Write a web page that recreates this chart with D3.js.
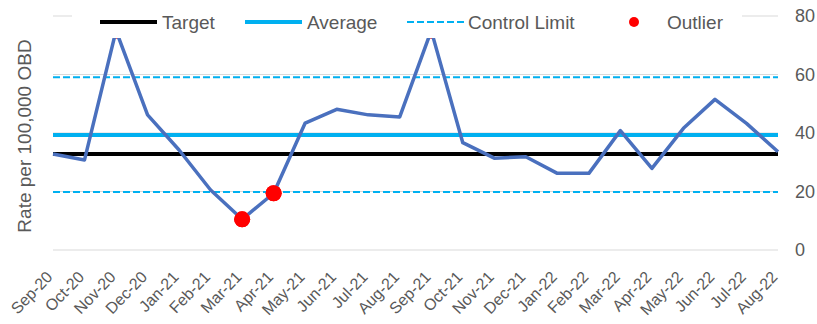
<!DOCTYPE html>
<html>
<head>
<meta charset="utf-8">
<script src="https://cdn.jsdelivr.net/npm/d3@7"></script>
<style>
  body { margin: 0; background: #fff; }
  text { font-family: "Liberation Sans", Arial, sans-serif; fill: #595959; }
</style>
</head>
<body>
<div id="chart-area"><svg></svg></div>
<script>
const months = ["Sep-20", "Oct-20", "Nov-20", "Dec-20", "Jan-21", "Feb-21", "Mar-21", "Apr-21",
  "May-21", "Jun-21", "Jul-21", "Aug-21", "Sep-21", "Oct-21", "Nov-21", "Dec-21",
  "Jan-22", "Feb-22", "Mar-22", "Apr-22", "May-22", "Jun-22", "Jul-22", "Aug-22"];
const rates = [32.8, 30.8, 75, 46.2, 34.2, 20.5, 10.5, 19.4,
  43.4, 48.1, 46.2, 45.5, 75, 36.7, 31.4, 31.9,
  26.2, 26.2, 40.8, 27.9, 41.6, 51.5, 43.3, 33.6];
const outlierMonths = ["Nov-20", "Mar-21", "Apr-21", "Sep-21"];
const target = 32.8;
const average = 39.3;
const controlLimits = [59.1, 19.8];
const yTicks = [0, 20, 40, 60, 80];

const chartSize = { width: 817, height: 324 };
const plot = { left: 53, right: 778, top: 16, bottom: 250 };
const blue = "#00B0F0";

const svg = d3.select("#chart-area svg")
  .attr("width", chartSize.width)
  .attr("height", chartSize.height);

const x = d3.scalePoint().domain(months).range([plot.left, plot.right]);
const y = d3.scaleLinear().domain([0, 80]).range([plot.bottom, plot.top]);

// gridlines
svg.append("g")
  .selectAll("line")
  .data(yTicks)
  .join("line")
  .attr("x1", plot.left)
  .attr("x2", plot.right)
  .attr("y1", d => y(d))
  .attr("y2", d => y(d))
  .attr("stroke", "#d9d9d9")
  .attr("stroke-width", 1);

const hline = (value, color, width, dash) =>
  svg.append("line")
    .attr("x1", plot.left)
    .attr("x2", plot.right)
    .attr("y1", y(value))
    .attr("y2", y(value))
    .attr("stroke", color)
    .attr("stroke-width", width)
    .attr("stroke-dasharray", dash);

controlLimits.forEach(v => hline(v, blue, 2, "7,3"));
hline(average, blue, 4, null);
hline(target, "#000", 4, null);

svg.append("g")
  .selectAll("circle")
  .data(outlierMonths)
  .join("circle")
  .attr("cx", m => x(m))
  .attr("cy", m => y(rates[months.indexOf(m)]))
  .attr("r", 8)
  .attr("fill", "#FF0000");

const line = d3.line()
  .x((d, i) => x(months[i]))
  .y(d => y(d));

svg.append("path")
  .attr("d", line(rates))
  .attr("fill", "none")
  .attr("stroke", "#4A70BE")
  .attr("stroke-width", 3.5)
  .attr("stroke-linejoin", "round");

// redraw the low outliers above the line, as in the original
svg.append("g")
  .selectAll("circle")
  .data(outlierMonths.filter(m => rates[months.indexOf(m)] < 40))
  .join("circle")
  .attr("cx", m => x(m))
  .attr("cy", m => y(rates[months.indexOf(m)]))
  .attr("r", 8)
  .attr("fill", "#FF0000");

// legend (white box over top of plot)
const legend = svg.append("g");
legend.append("rect")
  .attr("x", 72).attr("y", 3).attr("width", 670).attr("height", 35)
  .attr("fill", "#fff");

const legendY = 22;
const legendItems = [
  { label: "Target", x1: 100, x2: 157, tx: 162, color: "#000", width: 4, dash: null },
  { label: "Average", x1: 245, x2: 302, tx: 307, color: blue, width: 4, dash: null },
  { label: "Control Limit", x1: 407, x2: 465, tx: 468, color: blue, width: 2, dash: "7,3" }
];
legendItems.forEach(item => {
  legend.append("line")
    .attr("x1", item.x1).attr("x2", item.x2)
    .attr("y1", legendY).attr("y2", legendY)
    .attr("stroke", item.color)
    .attr("stroke-width", item.width)
    .attr("stroke-dasharray", item.dash);
  legend.append("text")
    .attr("x", item.tx).attr("y", legendY)
    .attr("dy", "0.35em")
    .style("font-size", "19px")
    .text(item.label);
});
legend.append("circle").attr("cx", 634).attr("cy", legendY).attr("r", 5).attr("fill", "#FF0000");
legend.append("text")
  .attr("x", 667).attr("y", legendY).attr("dy", "0.35em")
  .style("font-size", "19px")
  .text("Outlier");

// y axis on the right
const yAxis = d3.axisRight(y).tickValues(yTicks).tickSize(0).tickPadding(0);
svg.append("g")
  .attr("class", "y-axis")
  .attr("transform", "translate(795,0)")
  .call(yAxis)
  .call(g => g.select(".domain").remove())
  .selectAll("text")
  .style("font-size", "18px")
  .attr("fill", "#595959");

// x axis
const xAxis = d3.axisBottom(x).tickSize(0);
svg.append("g")
  .attr("class", "x-axis")
  .attr("transform", `translate(0,${plot.bottom})`)
  .call(xAxis)
  .call(g => g.select(".domain").remove())
  .selectAll("text")
  .attr("x", 0)
  .attr("y", 0)
  .attr("dy", "0.35em")
  .attr("transform", "translate(-4,24) rotate(-46)")
  .style("text-anchor", "end")
  .style("font-size", "16px")
  .attr("fill", "#595959");

svg.append("text")
  .attr("transform", "translate(31,136) rotate(-90)")
  .style("text-anchor", "middle")
  .style("font-size", "19px")
  .text("Rate per 100,000 OBD");
</script>
</body>
</html>
